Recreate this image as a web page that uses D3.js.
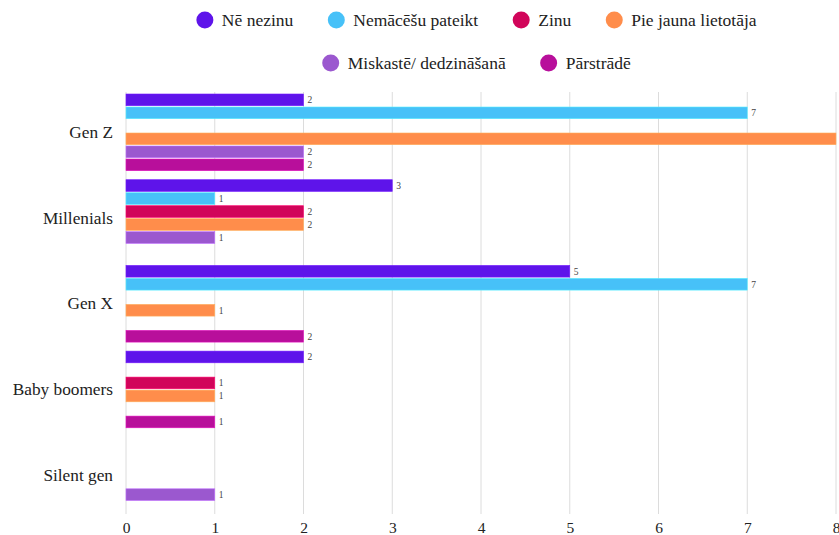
<!DOCTYPE html>
<html>
<head>
<meta charset="utf-8">
<script src="https://cdn.jsdelivr.net/npm/d3@7"></script>
<style>
  html, body { margin: 0; padding: 0; background: #fff; }
  svg { display: block; }
  svg text { font-family: "Liberation Serif", Tinos, "Times New Roman", Times, "DejaVu Serif", serif; }
</style>
</head>
<body>
<svg id="chart" width="839" height="535"></svg>
<script>
const groups = ["Gen Z", "Millenials", "Gen X", "Baby boomers", "Silent gen"];
const seriesNames = ["Nē nezinu", "Nemācēšu pateikt", "Zinu", "Pie jauna lietotāja", "Miskastē/ dedzināšanā", "Pārstrādē"];
const seriesColors = ["#5e14ea", "#47c1f8", "#d1055a", "#ff8d4b", "#9b58cf", "#b80f9b"];
// values per series, in order of groups
const neNezinu    = [2, 3, 5, 2, 0];
const nemacesu    = [7, 1, 7, 0, 0];
const zinu        = [0, 2, 0, 1, 0];
const pieJauna    = [8, 2, 1, 1, 0];
const miskaste    = [2, 1, 0, 0, 1];
const parstrade   = [2, 0, 2, 1, 0];
const seriesValues = [neNezinu, nemacesu, zinu, pieJauna, miskaste, parstrade];
const xTicks = [0, 1, 2, 3, 4, 5, 6, 7, 8];

const svg = d3.select("#chart");
const W = 839;

const x = d3.scaleLinear().domain([0, 8]).range([126, 836]);
const y0 = d3.scaleBand().domain(groups).range([89.5, 518]).paddingInner(0.09).paddingOuter(0.045);
const y1 = d3.scaleBand().domain(seriesNames).range([0, y0.bandwidth()]).paddingInner(0.1).paddingOuter(0.05);

// grid lines
svg.append("g").selectAll("line").data(xTicks).join("line")
  .attr("x1", d => x(d)).attr("x2", d => x(d))
  .attr("y1", 92).attr("y2", 514)
  .attr("stroke", "#dcdcdc").attr("stroke-width", 1);

// x tick labels
const xAxis = d3.axisBottom(x).tickValues(xTicks).tickSize(0).tickPadding(0).tickFormat(d3.format("d"));
const gx = svg.append("g").attr("transform", "translate(0,518)").call(xAxis);
gx.attr("font-family", null);
gx.select(".domain").remove();
gx.selectAll("text").attr("font-size", 15.5).attr("fill", "#222").attr("dy", "0.95em");

// group labels
const yAxis = d3.axisLeft(y0).tickSize(0).tickPadding(0);
const gy = svg.append("g").attr("transform", "translate(113,0)").call(yAxis);
gy.attr("font-family", null);
gy.select(".domain").remove();
gy.selectAll("text").attr("font-size", 17.3).attr("fill", "#222");

// bars
const rows = [];
groups.forEach((g, gi) => {
  seriesNames.forEach((s, si) => {
    rows.push({ g, s, si, v: seriesValues[si][gi] });
  });
});
const nonzero = rows.filter(d => d.v > 0);

svg.append("g").selectAll("rect").data(nonzero).join("rect")
  .attr("x", x(0))
  .attr("y", d => y0(d.g) + y1(d.s))
  .attr("width", d => x(d.v) - x(0))
  .attr("height", y1.bandwidth())
  .attr("fill", d => seriesColors[d.si])
  .attr("stroke", d => d3.color(seriesColors[d.si]).brighter(0.6))
  .attr("stroke-width", 0.6);

// value labels (those that fall past the right edge are not visible in the reference)
svg.append("g").selectAll("text").data(nonzero.filter(d => x(d.v) + 8 < W)).join("text")
  .attr("x", d => x(d.v) + 4)
  .attr("y", d => y0(d.g) + y1(d.s) + y1.bandwidth() / 2)
  .attr("dy", "0.35em")
  .attr("font-size", 9.5)
  .attr("fill", "#444")
  .text(d => d.v);

// legend
const legendRows = [[0, 1, 2, 3], [4, 5]];
const legendY = [20, 63];
const legendCenter = 476.5;
const r = 8.5, textGap = 17, itemGap = 34.5;
legendRows.forEach((idxs, ri) => {
  const lg = svg.append("g");
  const items = idxs.map(i => {
    const it = lg.append("g");
    it.append("circle").attr("r", r).attr("cx", 0).attr("cy", 0).attr("fill", seriesColors[i]);
    const t = it.append("text").attr("x", textGap).attr("y", 0).attr("dy", "0.35em")
      .attr("font-size", 17.5).attr("fill", "#222").text(seriesNames[i]);
    return { it, w: textGap + t.node().getComputedTextLength() };
  });
  const total = items.reduce((a, b) => a + b.w + r, 0) + itemGap * (items.length - 1);
  let cx = legendCenter - total / 2 + r;
  items.forEach(o => {
    o.it.attr("transform", `translate(${cx},${legendY[ri]})`);
    cx += o.w + itemGap + r;
  });
});
</script>
</body>
</html>
